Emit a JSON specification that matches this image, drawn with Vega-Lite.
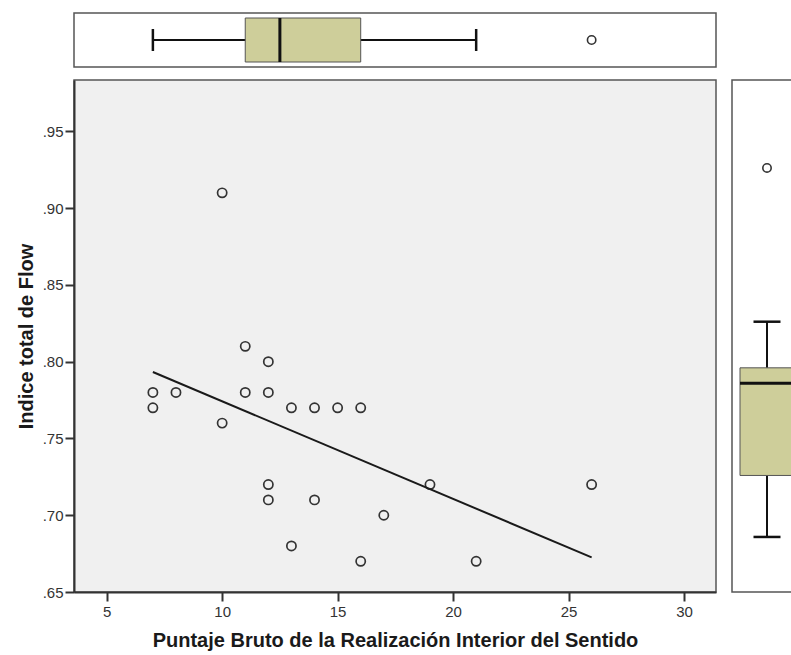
{
  "$schema": "https://vega.github.io/schema/vega-lite/v6.json",
  "autosize": {"type": "none"},
  "padding": {"left": 74, "top": 13, "right": 717, "bottom": 642},
  "background": "white",
  "config": {"font": "Liberation Sans"},
  "columns": 2,
  "align": "each",
  "spacing": {"row": 11, "column": 14},
  "concat": [
    {
      "width": 642,
      "height": 54,
      "view": {"fill": "white", "stroke": "#555555", "strokeWidth": 1.5},
      "data": {"values": [{"variable": "Puntaje", "lo": 7, "q1": 11, "median": 12.5, "q3": 16, "hi": 21}]},
      "layer": [
        {
          "mark": {"type": "rule", "color": "#111111", "strokeWidth": 2},
          "encoding": {
            "x": {"field": "lo", "type": "quantitative", "scale": {"domain": [3.584, 31.386], "nice": false, "zero": false}, "axis": null},
            "x2": {"field": "hi"},
            "y": {"field": "variable", "type": "nominal", "axis": null, "scale": {"paddingInner": 0, "paddingOuter": 0}}
          }
        },
        {
          "mark": {"type": "tick", "color": "#111111", "size": 22, "thickness": 2.5, "opacity": 1},
          "encoding": {
            "x": {"field": "lo", "type": "quantitative"},
            "y": {"field": "variable", "type": "nominal"}
          }
        },
        {
          "mark": {"type": "tick", "color": "#111111", "size": 22, "thickness": 2.5, "opacity": 1},
          "encoding": {
            "x": {"field": "hi", "type": "quantitative"},
            "y": {"field": "variable", "type": "nominal"}
          }
        },
        {
          "mark": {"type": "bar", "height": 44, "fill": "#CECE9A", "stroke": "#555555", "strokeWidth": 1},
          "encoding": {
            "x": {"field": "q1", "type": "quantitative"},
            "x2": {"field": "q3"},
            "y": {"field": "variable", "type": "nominal"}
          }
        },
        {
          "mark": {"type": "tick", "color": "#111111", "size": 44, "thickness": 3, "opacity": 1},
          "encoding": {
            "x": {"field": "median", "type": "quantitative"},
            "y": {"field": "variable", "type": "nominal"}
          }
        },
        {
          "data": {"values": [{"variable": "Puntaje", "value": 26}]},
          "mark": {"type": "point", "shape": "circle", "filled": false, "size": 70, "color": "#333333", "strokeWidth": 1.6, "opacity": 1},
          "encoding": {
            "x": {"field": "value", "type": "quantitative"},
            "y": {"field": "variable", "type": "nominal"}
          }
        }
      ]
    },
    {
      "width": 70,
      "height": 54,
      "view": {"stroke": null, "fill": null},
      "data": {"values": []},
      "mark": {"type": "text", "text": ""},
      "encoding": {}
    },
    {
      "width": 642,
      "height": 512,
      "view": {"fill": "#F0F0F0", "stroke": "#555555", "strokeWidth": 1.5},
      "data": {"values": [
        {"puntaje": 10, "flow": 0.91},
        {"puntaje": 11, "flow": 0.81},
        {"puntaje": 12, "flow": 0.80},
        {"puntaje": 7, "flow": 0.78},
        {"puntaje": 8, "flow": 0.78},
        {"puntaje": 11, "flow": 0.78},
        {"puntaje": 12, "flow": 0.78},
        {"puntaje": 7, "flow": 0.77},
        {"puntaje": 13, "flow": 0.77},
        {"puntaje": 14, "flow": 0.77},
        {"puntaje": 15, "flow": 0.77},
        {"puntaje": 16, "flow": 0.77},
        {"puntaje": 10, "flow": 0.76},
        {"puntaje": 12, "flow": 0.72},
        {"puntaje": 19, "flow": 0.72},
        {"puntaje": 26, "flow": 0.72},
        {"puntaje": 12, "flow": 0.71},
        {"puntaje": 14, "flow": 0.71},
        {"puntaje": 17, "flow": 0.70},
        {"puntaje": 13, "flow": 0.68},
        {"puntaje": 16, "flow": 0.67},
        {"puntaje": 21, "flow": 0.67}
      ]},
      "layer": [
        {
          "mark": {"type": "point", "shape": "circle", "filled": false, "size": 85, "color": "#333333", "strokeWidth": 1.7, "opacity": 1},
          "encoding": {
            "x": {
              "field": "puntaje", "type": "quantitative",
              "scale": {"domain": [3.584, 31.386], "nice": false, "zero": false},
              "axis": {
                "values": [5, 10, 15, 20, 25, 30], "grid": false, "labelFlush": false,
                "domainColor": "#333333", "domainWidth": 2,
                "tickColor": "#333333", "tickWidth": 2, "tickSize": 9,
                "labelFont": "Liberation Sans", "labelFontSize": 15, "labelColor": "#333333", "labelPadding": 3,
                "title": "Puntaje Bruto de la Realización Interior del Sentido",
                "titleFont": "Liberation Sans", "titleFontSize": 20, "titleFontWeight": "bold", "titleColor": "#1a1a1a", "titlePadding": 11
              }
            },
            "y": {
              "field": "flow", "type": "quantitative",
              "scale": {"domain": [0.65, 0.9835], "nice": false, "zero": false},
              "axis": {
                "values": [0.65, 0.7, 0.75, 0.8, 0.85, 0.9, 0.95], "grid": false, "labelFlush": false,
                "labelExpr": "replace(format(datum.value, '.2f'), '0.', '.')",
                "domainColor": "#333333", "domainWidth": 2,
                "tickColor": "#333333", "tickWidth": 2, "tickSize": 9,
                "labelFont": "Liberation Sans", "labelFontSize": 15, "labelColor": "#333333", "labelPadding": 2,
                "title": "Indice total de Flow",
                "titleFont": "Liberation Sans", "titleFontSize": 20, "titleFontWeight": "bold", "titleColor": "#1a1a1a", "titlePadding": 6
              }
            }
          }
        },
        {
          "transform": [{"regression": "flow", "on": "puntaje", "extent": [7, 26]}],
          "mark": {"type": "line", "color": "#1a1a1a", "strokeWidth": 2},
          "encoding": {
            "x": {"field": "puntaje", "type": "quantitative"},
            "y": {"field": "flow", "type": "quantitative"}
          }
        }
      ]
    },
    {
      "width": 70,
      "height": 512,
      "view": {"fill": "white", "stroke": "#555555", "strokeWidth": 1.5},
      "data": {"values": [{"variable": "Flow", "lo": 0.67, "q1": 0.71, "median": 0.77, "q3": 0.78, "hi": 0.81}]},
      "layer": [
        {
          "mark": {"type": "rule", "color": "#111111", "strokeWidth": 2},
          "encoding": {
            "y": {"field": "lo", "type": "quantitative", "scale": {"domain": [0.6342, 0.9672], "nice": false, "zero": false}, "axis": null},
            "y2": {"field": "hi"},
            "x": {"field": "variable", "type": "nominal", "axis": null, "scale": {"paddingInner": 0, "paddingOuter": 0}}
          }
        },
        {
          "mark": {"type": "tick", "color": "#111111", "size": 27, "thickness": 2.5, "opacity": 1},
          "encoding": {
            "y": {"field": "lo", "type": "quantitative"},
            "x": {"field": "variable", "type": "nominal"}
          }
        },
        {
          "mark": {"type": "tick", "color": "#111111", "size": 27, "thickness": 2.5, "opacity": 1},
          "encoding": {
            "y": {"field": "hi", "type": "quantitative"},
            "x": {"field": "variable", "type": "nominal"}
          }
        },
        {
          "mark": {"type": "bar", "width": 54, "fill": "#CECE9A", "stroke": "#555555", "strokeWidth": 1},
          "encoding": {
            "y": {"field": "q1", "type": "quantitative"},
            "y2": {"field": "q3"},
            "x": {"field": "variable", "type": "nominal"}
          }
        },
        {
          "mark": {"type": "tick", "color": "#111111", "size": 54, "thickness": 3, "opacity": 1},
          "encoding": {
            "y": {"field": "median", "type": "quantitative"},
            "x": {"field": "variable", "type": "nominal"}
          }
        },
        {
          "data": {"values": [{"variable": "Flow", "value": 0.91}]},
          "mark": {"type": "point", "shape": "circle", "filled": false, "size": 70, "color": "#333333", "strokeWidth": 1.6, "opacity": 1},
          "encoding": {
            "y": {"field": "value", "type": "quantitative"},
            "x": {"field": "variable", "type": "nominal"}
          }
        }
      ]
    }
  ]
}
